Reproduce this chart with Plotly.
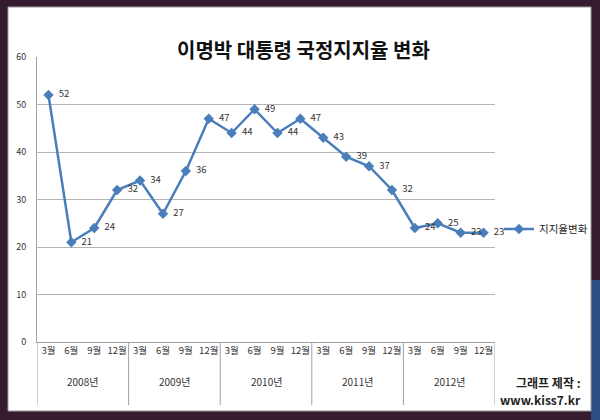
import plotly.graph_objects as go

years = ["2008년", "2009년", "2010년", "2011년", "2012년"]
months = ["3월", "6월", "9월", "12월"]
approval = [52, 21, 24, 32, 34, 27, 36, 47, 44, 49, 44, 47, 43, 39, 37, 32, 24, 25, 23, 23]
series_name = "지지율변화"
title_text = "이명박 대통령 국정지지율 변화"
credit_lines = ["그래프 제작 :", "www.kiss7.kr"]
y_ticks = [0, 10, 20, 30, 40, 50, 60]

W, H = 600, 420
L, R, T, B = 37, 495, 57, 342  # plot area in pixels
PR = W  # paper right edge in pixels


def px(x):
    return (x - L) / (PR - L)


def py(y):
    return (B - y) / (B - T)


idx = list(range(len(approval)))
tick_text = [m for _ in years for m in months]

fig = go.Figure()
fig.add_trace(go.Scatter(
    x=idx, y=approval, mode="lines+markers+text", name=series_name,
    line=dict(color="#4A7EBB", width=2.5),
    marker=dict(symbol="diamond", size=8, color="#4A7EBB"),
    text=["  " + str(v) for v in approval], textposition="middle right",
    textfont=dict(size=9.5, color="#333333", family="Noto Sans CJK KR"),
    cliponaxis=False,
))

shapes = []
shapes.append(dict(type="rect", xref="paper", yref="paper", x0=px(591), x1=px(600), y0=py(280), y1=py(420),
                   fillcolor="#2b4f86", line=dict(width=0), layer="below"))
shapes.append(dict(type="rect", xref="paper", yref="paper", x0=px(8), x1=px(591), y0=py(411), y1=py(7),
                   fillcolor="white", line=dict(color="#9a9a9a", width=1), layer="below"))
n_m = len(months)
for k in range(len(years) + 1):
    xv = k * n_m - 0.5
    shapes.append(dict(type="line", xref="x", yref="paper", x0=xv, x1=xv, y0=0, y1=py(405),
                       line=dict(color="#a0a0a0", width=1)))

annotations = []
for k, yr in enumerate(years):
    annotations.append(dict(x=k * n_m + (n_m - 1) / 2, y=py(391), xref="x", yref="paper", text=yr,
                            showarrow=False, font=dict(size=10, color="#333333", family="Noto Sans CJK KR")))
annotations.append(dict(x=px(303), y=py(33), xref="paper", yref="paper", text="<b>" + title_text + "</b>",
                        showarrow=False, font=dict(size=20, color="#111111", family="Noto Sans CJK KR")))
for i, line in enumerate(credit_lines):
    annotations.append(dict(x=px(583), y=py(382 + i * 17), xref="paper", yref="paper", text="<b>" + line + "</b>",
                            showarrow=False, xanchor="right", yanchor="middle",
                            font=dict(size=12, color="#222222", family="Noto Sans CJK KR")))

fig.update_layout(
    width=W, height=H,
    margin=dict(l=L, r=W - PR, t=T, b=H - B, pad=0),
    paper_bgcolor="#351c2f", plot_bgcolor="white",
    showlegend=True,
    legend=dict(x=px(499), y=py(229), xanchor="left", yanchor="middle", bgcolor="rgba(0,0,0,0)",
                font=dict(size=10.5, color="#222222", family="Noto Sans CJK KR")),
    xaxis=dict(domain=[0, (R - L) / (PR - L)], range=[-0.5, len(approval) - 0.5], tickmode="array",
               tickvals=idx, ticktext=tick_text,
               showgrid=False, zeroline=False, showline=True, linecolor="#a0a0a0", ticks="",
               tickfont=dict(size=9.5, color="#333333", family="Noto Sans CJK KR"), fixedrange=True),
    yaxis=dict(range=[0, 60], tickvals=y_ticks, showgrid=True, gridcolor="#b5b5b5", zeroline=False,
               showline=True, linecolor="#a0a0a0", ticks="", ticklabelstandoff=8,
               tickfont=dict(size=9, color="#333333", family="Noto Sans CJK KR")),
    shapes=shapes, annotations=annotations,
)

fig.write_html("out.html")
